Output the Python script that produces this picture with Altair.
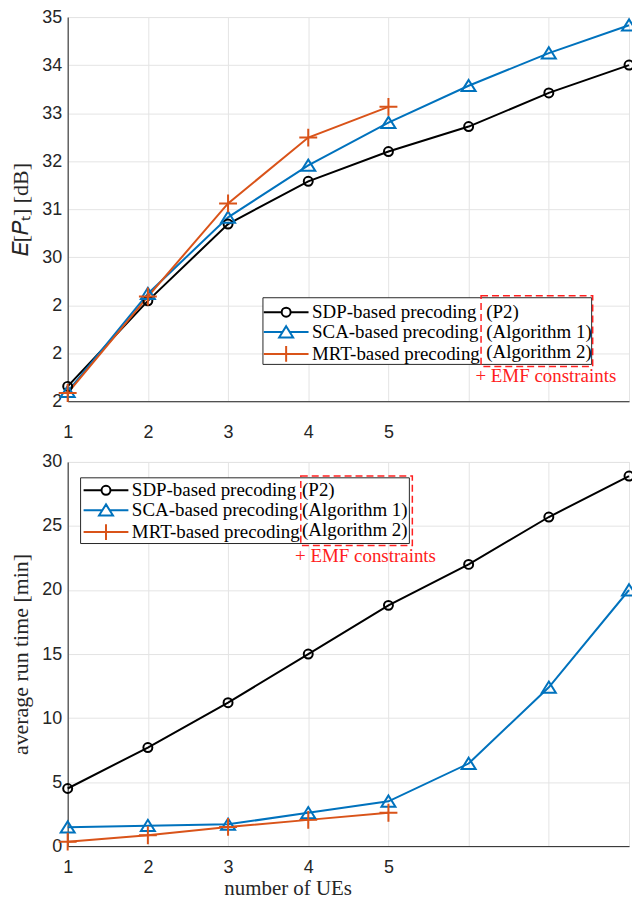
import altair as alt
import pandas as pd

# ---------------- data ----------------
ues = [1, 2, 3, 4, 5, 6, 7, 8]
series_names = ["SDP-based precoding", "SCA-based precoding", "MRT-based precoding"]
alg_names = ["(P2)", "(Algorithm 1)", "(Algorithm 2)"]
colors = ["#000000", "#0072BD", "#D95319"]

# E[P_T] in dB
top_sdp = [27.31, 29.09, 30.69, 31.58, 32.20, 32.72, 33.42, 34.00]
top_sca = [27.20, 29.24, 30.83, 31.91, 32.80, 33.57, 34.25, 34.83]
top_mrt = [27.17, 29.18, 31.12, 32.49, 33.13]

# average run time in min
bot_sdp = [4.5, 7.7, 11.2, 15.0, 18.8, 22.0, 25.7, 28.9]
bot_sca = [1.48, 1.6, 1.7, 2.6, 3.5, 6.45, 12.4, 20.0]
bot_mrt = [0.35, 0.85, 1.5, 2.05, 2.6]

top_yticks = [27, 28, 29, 30, 31, 32, 33, 34, 35]
bot_yticks = [0, 5, 10, 15, 20, 25, 30]
x_ticks = [1, 2, 3, 4, 5, 6, 7, 8]

# ---------------- styles ----------------
marker_paths = ["circle", "M0,-1.3L1.56,1.2L-1.56,1.2Z", "M-2,0H2M0,-2V2"]
legend_paths = [
    "M-5,0H-1M1,0H5M1,0A1,1,0,1,1,-1,0A1,1,0,1,1,1,0",
    "M-5,0H-0.81M0.81,0H5M0,-1.3L1.56,1.2L-1.56,1.2Z",
    "M-5,0H5M0,-1.75V1.75",
]
shape_expr = (
    f"(datum.value === '{series_names[0]}' || datum.value === '{alg_names[0]}') ? '{legend_paths[0]}' : "
    f"(datum.value === '{series_names[1]}' || datum.value === '{alg_names[1]}') ? '{legend_paths[1]}' : "
    f"'{legend_paths[2]}'"
)
SERIF = "Liberation Serif"
SANS = "Liberation Sans"
AX = "#262626"
LEG_FS = 19


def long_df(vals_list):
    rows = []
    for s, a, vals in zip(series_names, alg_names, vals_list):
        for x, v in zip(ues, vals):
            rows.append({"ues": x, "val": v, "series": s, "alg": a})
    return pd.DataFrame(rows)


def legend(pos, hidden=False):
    return alt.Legend(
        orient="none", legendX=pos[0], legendY=pos[1], title=None,
        symbolSize=81, symbolOffset=17, labelOffset=16.5, rowPadding=-1,
        padding=0, labelFont=SERIF, labelFontSize=LEG_FS, labelColor="#000000",
        labelLimit=400,
        symbolStrokeWidth=2, symbolFillColor="transparent",
        symbolOpacity=0 if hidden else 1,
        symbolType=alt.ExprRef(expr=shape_expr),
    )


def panel(df, ydom, yvals, ylabel_expr, ytitle, frame, redbox, note,
          cleg, aleg, xtitle, xlabpad):
    xaxis_kw = dict(values=x_ticks, format="d",
                    labelExpr="datum.value <= 5 ? datum.label : ''",
                    grid=True, ticks=False, tickSize=0, labelPadding=xlabpad,
                    labelFont=SANS, labelFontSize=18, labelColor=AX,
                    domainColor=AX, gridColor="#e4e4e4", labelFlush=False)
    if xtitle:
        xaxis_kw.update(title=xtitle, titleFont=SERIF, titleFontSize=21,
                        titleFontWeight="normal", titleColor=AX, titleX=221,
                        titlePadding=1)
    else:
        xaxis_kw.update(title=None)
    x = alt.X("ues:Q", scale=alt.Scale(domain=[1, 8], nice=False),
              axis=alt.Axis(**xaxis_kw))
    yaxis_kw = dict(values=yvals, grid=True, ticks=False, tickSize=0,
                    labelPadding=6, labelFont=SANS, labelFontSize=18,
                    labelColor=AX, domainColor=AX, gridColor="#e4e4e4",
                    title=ytitle, titleFont=SERIF, titleFontSize=22,
                    titleFontWeight="normal", titleColor=AX, titlePadding=9,
                    labelFlush=False)
    if ylabel_expr:
        yaxis_kw["labelExpr"] = ylabel_expr
    y = alt.Y("val:Q", scale=alt.Scale(domain=ydom, nice=False, zero=False),
              axis=alt.Axis(**yaxis_kw))

    lines = alt.Chart(df).mark_line(strokeWidth=2).encode(
        x=x, y=y,
        color=alt.Color("series:N", scale=alt.Scale(domain=series_names, range=colors),
                        legend=legend(cleg)))
    points = alt.Chart(df).mark_point(filled=False, strokeWidth=2, size=81,
                                      opacity=1).encode(
        x=x, y=y,
        color=alt.Color("alg:N", scale=alt.Scale(domain=alg_names, range=colors),
                        legend=legend(aleg, hidden=True)),
        shape=alt.Shape("series:N", scale=alt.Scale(domain=series_names, range=marker_paths),
                        legend=None))

    frame_df = pd.DataFrame([frame])
    frame_rect = alt.Chart(frame_df).mark_rect(
        fill="white", stroke=AX, strokeWidth=1).encode(
        x="x:Q", x2="x2:Q", y="y:Q", y2="y2:Q")
    red_df = pd.DataFrame([redbox])
    red_rect = alt.Chart(red_df).mark_rect(
        fill="transparent", stroke="#FF2020", strokeWidth=1.5,
        strokeDash=[7, 4]).encode(x="x:Q", x2="x2:Q", y="y:Q", y2="y2:Q")
    note_df = pd.DataFrame([note])
    note_text = alt.Chart(note_df).mark_text(
        font=SERIF, fontSize=19, color="#FF2020", align="center",
        baseline="middle").encode(x="x:Q", y="y:Q", text="t:N")

    return alt.layer(lines, points, frame_rect, red_rect, note_text).resolve_scale(
        color="independent").properties(width=564, height=386)


top = panel(
    long_df([top_sdp, top_sca, top_mrt]), [27, 35], top_yticks,
    "datum.value >= 30 ? datum.label : '2'", "𝐸[𝑃ₜ] [dB]",
    {"x": 3.435, "x2": 7.534, "y": 29.155, "y2": 27.767},
    {"x": 6.155, "x2": 7.547, "y": 29.197, "y2": 27.725},
    {"x": 6.963, "y": 27.518, "t": "+ EMF constraints"},
    (193, 287), (368, 287), None, 22,
)
bottom = panel(
    long_df([bot_sdp, bot_sca, bot_mrt]), [0, 30], bot_yticks,
    None, "average run time [min]",
    {"x": 1.161, "x2": 5.261, "y": 28.76, "y2": 23.63},
    {"x": 3.907, "x2": 5.298, "y": 28.91, "y2": 23.47},
    {"x": 4.714, "y": 22.62, "t": "+ EMF constraints"},
    (12, 19), (183, 19), "number of UEs", 13,
)

chart = alt.vconcat(top, bottom, spacing=61, bounds="flush").resolve_scale(
    color="independent", shape="independent", x="independent", y="independent"
).resolve_legend(color="independent").properties(
    padding={"left": 9, "top": 5, "right": -9, "bottom": 0},
).configure_view(stroke=AX, strokeWidth=1).configure(background="white")

chart.save("out.html", embed_options={"renderer": "svg", "actions": False})
